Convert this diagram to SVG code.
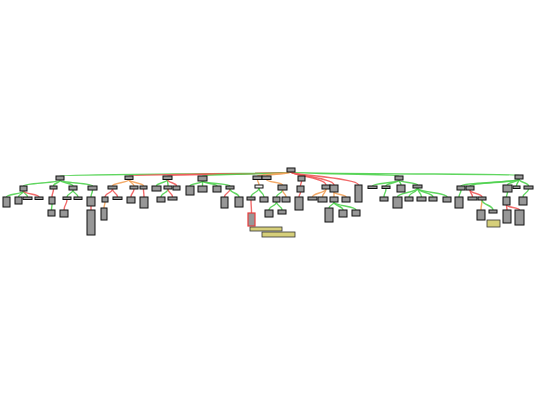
<svg xmlns="http://www.w3.org/2000/svg" width="540" height="405" viewBox="0 0 540 405">
<style>
.n rect{fill:#979797;stroke:#111;stroke-width:1}
.w rect{fill:#f4f4f4;stroke:#111;stroke-width:1}
.rb rect{fill:#979797;stroke:#e83c3c;stroke-width:1.2}
.y rect{fill:#d6cf7a;stroke:#333;stroke-width:0.8}
path{fill:none;stroke-width:1.4;stroke-linecap:round;stroke-opacity:0.9}
.g{stroke:#4fd24f}
.r{stroke:#f05a5a}
.o{stroke:#f2a25a}
</style>
<rect width="540" height="405" fill="#ffffff"/>
<g id="connectors">
<path class="g" d="M291,172 C291,174 60,174 60,176"/>
<path class="r" d="M291,172 C291,174 129,174 129,176"/>
<path class="r" d="M291,172 C291,174 167.5,174 167.5,176"/>
<path class="g" d="M291,172 C291,174 202.5,174 202.5,176"/>
<path class="o" d="M291,172 C291,174 257.5,174 257.5,176"/>
<path class="o" d="M291,172 C291,174 266.5,174 266.5,176"/>
<path class="r" d="M291,172 C291,174 301.5,174 301.5,176"/>
<path class="g" d="M291,172 C291,174 399,174 399,176"/>
<path class="g" d="M291,172 C291,174 519,174 519,175"/>
<path class="r" d="M291,172 C291,175 326,178 326,185"/>
<path class="r" d="M291,172 C291,175 334,178 334,185"/>
<path class="r" d="M291,172 C291,175 358.5,178 358.5,185"/>
<path class="g" d="M60,180 C60,183 23.5,183 23.5,186"/>
<path class="g" d="M60,180 C60,183 53.5,183 53.5,186"/>
<path class="g" d="M60,180 C60,183 73,183 73,186"/>
<path class="g" d="M60,180 C60,183 92.5,183 92.5,186"/>
<path class="g" d="M23.5,191 C23.5,194 6.5,194 6.5,197"/>
<path class="g" d="M23.5,191 C23.5,194 18.5,194 18.5,197"/>
<path class="g" d="M23.5,191 C23.5,194 27.5,194 27.5,197"/>
<path class="r" d="M23.5,191 C23.5,194 39,194 39,197"/>
<path class="r" d="M53.5,189 C53.5,193 52,193 52,197"/>
<path class="g" d="M52,204 C52,207 51.5,207 51.5,210"/>
<path class="g" d="M73,190 C73,193.5 67,193.5 67,197"/>
<path class="g" d="M73,190 C73,193.5 78,193.5 78,197"/>
<path class="r" d="M67,199.5 C67,204.75 64,204.75 64,210"/>
<path class="g" d="M92.5,190 C92.5,193.5 91,193.5 91,197"/>
<path class="r" d="M91,206 C91,208 91,208 91,210"/>
<path class="o" d="M129,179.5 C129,182.75 112.5,182.75 112.5,186"/>
<path class="o" d="M129,179.5 C129,182.75 134,182.75 134,186"/>
<path class="o" d="M129,179.5 C129,182.75 143.5,182.75 143.5,186"/>
<path class="r" d="M112.5,189 C112.5,193 105,193 105,197"/>
<path class="r" d="M112.5,189 C112.5,193 117.5,193 117.5,197"/>
<path class="o" d="M105,202 C105,205 104,205 104,208"/>
<path class="r" d="M134,189 C134,193 131,193 131,197"/>
<path class="r" d="M143.5,189 C143.5,193 144,193 144,197"/>
<path class="g" d="M167.5,179.5 C167.5,182.75 156.5,182.75 156.5,186"/>
<path class="g" d="M167.5,179.5 C167.5,182.75 168,182.75 168,186"/>
<path class="r" d="M167.5,179.5 C167.5,182.75 176.5,182.75 176.5,186"/>
<path class="g" d="M168,189 C168,193 161,193 161,197"/>
<path class="r" d="M168,189 C168,193 172.5,193 172.5,197"/>
<path class="g" d="M202.5,181 C202.5,183.5 190,183.5 190,186"/>
<path class="g" d="M202.5,181 C202.5,183.5 202.5,183.5 202.5,186"/>
<path class="g" d="M202.5,181 C202.5,183.5 217,183.5 217,186"/>
<path class="g" d="M202.5,181 C202.5,183.5 230,183.5 230,186"/>
<path class="r" d="M230,189 C230,193 224.5,193 224.5,197"/>
<path class="g" d="M230,189 C230,193 239,193 239,197"/>
<path class="o" d="M257.5,179.5 C257.5,182.25 259,182.25 259,185"/>
<path class="g" d="M259,188 C259,192.5 251,192.5 251,197"/>
<path class="g" d="M259,188 C259,192.5 264,192.5 264,197"/>
<path class="r" d="M251,200 C251,206.5 251.5,206.5 251.5,213"/>
<path class="o" d="M266.5,179.5 C266.5,182.25 282.5,182.25 282.5,185"/>
<path class="g" d="M282.5,190 C282.5,193.5 276.5,193.5 276.5,197"/>
<path class="o" d="M282.5,190 C282.5,193.5 286,193.5 286,197"/>
<path class="g" d="M276.5,202 C276.5,206 269,206 269,210"/>
<path class="g" d="M276.5,202 C276.5,206 282,206 282,210"/>
<path class="r" d="M301.5,181 C301.5,183.5 300.5,183.5 300.5,186"/>
<path class="r" d="M300.5,192 C300.5,194.5 299,194.5 299,197"/>
<path class="o" d="M326,189 C326,193 312.5,193 312.5,197"/>
<path class="o" d="M326,189 C326,193 322.5,193 322.5,197"/>
<path class="o" d="M334,192 C334,194.5 334,194.5 334,197"/>
<path class="o" d="M334,192 C334,194.5 346,194.5 346,197"/>
<path class="g" d="M334,202 C334,205 329,205 329,208"/>
<path class="g" d="M334,202 C334,206 343,206 343,210"/>
<path class="g" d="M334,202 C334,206 356,206 356,210"/>
<path class="g" d="M399,180 C399,183 372.5,183 372.5,186"/>
<path class="g" d="M399,180 C399,183 386,183 386,186"/>
<path class="g" d="M399,180 C399,182.5 401,182.5 401,185"/>
<path class="g" d="M399,180 C399,182.5 417.5,182.5 417.5,185"/>
<path class="g" d="M386,188.5 C386,193 384,193 384,197"/>
<path class="g" d="M417.5,188 C417.5,192.5 397.5,192.5 397.5,197"/>
<path class="g" d="M417.5,188 C417.5,192.5 409,192.5 409,197"/>
<path class="g" d="M417.5,188 C417.5,192.5 421.5,192.5 421.5,197"/>
<path class="g" d="M417.5,188 C417.5,192.5 433,192.5 433,197"/>
<path class="g" d="M417.5,188 C417.5,192.5 447,192.5 447,197"/>
<path class="g" d="M519,179 C519,182.5 461,182.5 461,186"/>
<path class="g" d="M519,179 C519,182.5 470,182.5 470,186"/>
<path class="g" d="M519,179 C519,182 507.5,182 507.5,185"/>
<path class="g" d="M519,179 C519,182.5 516.5,182.5 516.5,186"/>
<path class="g" d="M519,179 C519,182.5 528.5,182.5 528.5,186"/>
<path class="g" d="M461,190 C461,193.5 459,193.5 459,197"/>
<path class="r" d="M470,190 C470,193.5 472.5,193.5 472.5,197"/>
<path class="r" d="M470,190 C470,193.5 482,193.5 482,197"/>
<path class="o" d="M482,200 C482,205 481,205 481,210"/>
<path class="g" d="M482,200 C482,205 493,205 493,210"/>
<path class="g" d="M507.5,192 C507.5,194.5 506.5,194.5 506.5,197"/>
<path class="r" d="M506.5,205 C506.5,207.5 507,207.5 507,210"/>
<path class="r" d="M506.5,205 C506.5,207.5 519.5,207.5 519.5,210"/>
<path class="g" d="M528.5,189 C528.5,193 523,193 523,197"/>
</g>
<g id="root" class="n"><rect x="287" y="168" width="8" height="4"/></g>
<g id="A" class="n"><rect x="56" y="176" width="8" height="4"/></g>
<g id="B" class="n"><rect x="125" y="176" width="8" height="3.5"/></g>
<g id="C" class="n"><rect x="163" y="176" width="9" height="3.5"/></g>
<g id="D" class="n"><rect x="198" y="176" width="9" height="5"/></g>
<g id="E1" class="n"><rect x="253" y="176" width="9" height="3.5"/></g>
<g id="E2" class="n"><rect x="262" y="176" width="9" height="3.5"/></g>
<g id="F" class="n"><rect x="298" y="176" width="7" height="5"/></g>
<g id="G" class="n"><rect x="395" y="176" width="8" height="4"/></g>
<g id="H" class="n"><rect x="515" y="175" width="8" height="4"/></g>
<g id="A1" class="n"><rect x="20" y="186" width="7" height="5"/></g>
<g id="A2" class="n"><rect x="50" y="186" width="7" height="3"/></g>
<g id="A3" class="n"><rect x="69" y="186" width="8" height="4"/></g>
<g id="A4" class="n"><rect x="88" y="186" width="9" height="4"/></g>
<g id="A1a" class="n"><rect x="3" y="197" width="7" height="10"/></g>
<g id="A1b" class="n"><rect x="15" y="197" width="7" height="7"/></g>
<g id="A1c" class="n"><rect x="23" y="197" width="9" height="2.5"/></g>
<g id="A1d" class="n"><rect x="35" y="197" width="8" height="2.5"/></g>
<g id="A2a" class="n"><rect x="49" y="197" width="6" height="7"/></g>
<g id="A2a1" class="n"><rect x="48" y="210" width="7" height="6"/></g>
<g id="A3a" class="n"><rect x="63" y="197" width="8" height="2.5"/></g>
<g id="A3b" class="n"><rect x="74" y="197" width="8" height="2.5"/></g>
<g id="A3a1" class="n"><rect x="60" y="210" width="8" height="7"/></g>
<g id="A4a" class="n"><rect x="87" y="197" width="8" height="9"/></g>
<g id="A4a1" class="n"><rect x="87" y="210" width="8" height="25"/></g>
<g id="B1" class="n"><rect x="108" y="186" width="9" height="3"/></g>
<g id="B2" class="n"><rect x="130" y="186" width="8" height="3"/></g>
<g id="B3" class="n"><rect x="140" y="186" width="7" height="3"/></g>
<g id="B1a" class="n"><rect x="102" y="197" width="6" height="5"/></g>
<g id="B1a1" class="n"><rect x="101" y="208" width="6" height="12"/></g>
<g id="B1b" class="n"><rect x="113" y="197" width="9" height="2.5"/></g>
<g id="B2a" class="n"><rect x="127" y="197" width="8" height="6"/></g>
<g id="B3a" class="n"><rect x="140" y="197" width="8" height="11"/></g>
<g id="C1" class="n"><rect x="152" y="186" width="9" height="5"/></g>
<g id="C2" class="n"><rect x="164" y="186" width="8" height="3"/></g>
<g id="C3" class="n"><rect x="173" y="186" width="7" height="4"/></g>
<g id="C2a" class="n"><rect x="157" y="197" width="8" height="5"/></g>
<g id="C2b" class="n"><rect x="168" y="197" width="9" height="3"/></g>
<g id="D1" class="n"><rect x="186" y="186" width="8" height="9"/></g>
<g id="D2" class="n"><rect x="198" y="186" width="9" height="6"/></g>
<g id="D3" class="n"><rect x="213" y="186" width="8" height="6"/></g>
<g id="D4" class="n"><rect x="226" y="186" width="8" height="3"/></g>
<g id="D4a" class="n"><rect x="221" y="197" width="7" height="11"/></g>
<g id="D4b" class="n"><rect x="235" y="197" width="8" height="10"/></g>
<g id="E3" class="w"><rect x="255" y="185" width="8" height="3"/></g>
<g id="E3a" class="n"><rect x="247" y="197" width="8" height="3"/></g>
<g id="E3b" class="n"><rect x="260" y="197" width="8" height="5"/></g>
<g id="RB" class="rb"><rect x="248" y="213" width="7" height="13"/></g>
<g id="Y1" class="y"><rect x="250" y="227" width="32" height="4"/></g>
<g id="Y2" class="y"><rect x="262" y="232" width="33" height="5"/></g>
<g id="E4" class="n"><rect x="278" y="185" width="9" height="5"/></g>
<g id="E4a" class="n"><rect x="273" y="197" width="7" height="5"/></g>
<g id="E4b" class="n"><rect x="282" y="197" width="8" height="5"/></g>
<g id="E4a1" class="n"><rect x="265" y="210" width="8" height="7"/></g>
<g id="E4a2" class="n"><rect x="278" y="210" width="8" height="4"/></g>
<g id="F1" class="n"><rect x="297" y="186" width="7" height="6"/></g>
<g id="F1a" class="n"><rect x="295" y="197" width="8" height="13"/></g>
<g id="R1" class="n"><rect x="322" y="185" width="8" height="4"/></g>
<g id="R2" class="n"><rect x="330" y="185" width="8" height="7"/></g>
<g id="R3" class="n"><rect x="355" y="185" width="7" height="17"/></g>
<g id="R1a" class="n"><rect x="308" y="197" width="9" height="3"/></g>
<g id="R1b" class="n"><rect x="318" y="197" width="9" height="5"/></g>
<g id="R2a" class="n"><rect x="330" y="197" width="8" height="5"/></g>
<g id="R2b" class="n"><rect x="342" y="197" width="8" height="5"/></g>
<g id="R2a1" class="n"><rect x="325" y="208" width="8" height="14"/></g>
<g id="R2a2" class="n"><rect x="339" y="210" width="8" height="7"/></g>
<g id="R2a3" class="n"><rect x="352" y="210" width="8" height="6"/></g>
<g id="G1" class="n"><rect x="368" y="186" width="9" height="2.5"/></g>
<g id="G2" class="n"><rect x="382" y="186" width="8" height="2.5"/></g>
<g id="G3" class="n"><rect x="397" y="185" width="8" height="7"/></g>
<g id="G4" class="n"><rect x="413" y="185" width="9" height="3"/></g>
<g id="G2a" class="n"><rect x="380" y="197" width="8" height="4"/></g>
<g id="G4a" class="n"><rect x="393" y="197" width="9" height="11"/></g>
<g id="G4b" class="n"><rect x="405" y="197" width="8" height="4"/></g>
<g id="G4c" class="n"><rect x="417" y="197" width="9" height="4"/></g>
<g id="G4d" class="n"><rect x="429" y="197" width="8" height="4"/></g>
<g id="G4e" class="n"><rect x="443" y="197" width="8" height="5"/></g>
<g id="H1" class="n"><rect x="457" y="186" width="8" height="4"/></g>
<g id="H2" class="n"><rect x="466" y="186" width="8" height="4"/></g>
<g id="H3" class="n"><rect x="503" y="185" width="9" height="7"/></g>
<g id="H4" class="n"><rect x="513" y="186" width="7" height="2.5"/></g>
<g id="H5" class="n"><rect x="524" y="186" width="9" height="3"/></g>
<g id="H1a" class="n"><rect x="455" y="197" width="8" height="11"/></g>
<g id="H2a" class="n"><rect x="468" y="197" width="9" height="3"/></g>
<g id="H2b" class="n"><rect x="478" y="197" width="8" height="3"/></g>
<g id="H2b1" class="n"><rect x="477" y="210" width="8" height="10"/></g>
<g id="H2b2" class="n"><rect x="489" y="210" width="8" height="3"/></g>
<g id="Y3" class="y"><rect x="487" y="220" width="13" height="7"/></g>
<g id="H3a" class="n"><rect x="503" y="197" width="7" height="8"/></g>
<g id="H3a1" class="n"><rect x="503" y="210" width="8" height="13"/></g>
<g id="H3a2" class="n"><rect x="515" y="210" width="9" height="15"/></g>
<g id="H5a" class="n"><rect x="519" y="197" width="8" height="8"/></g>
</svg>
